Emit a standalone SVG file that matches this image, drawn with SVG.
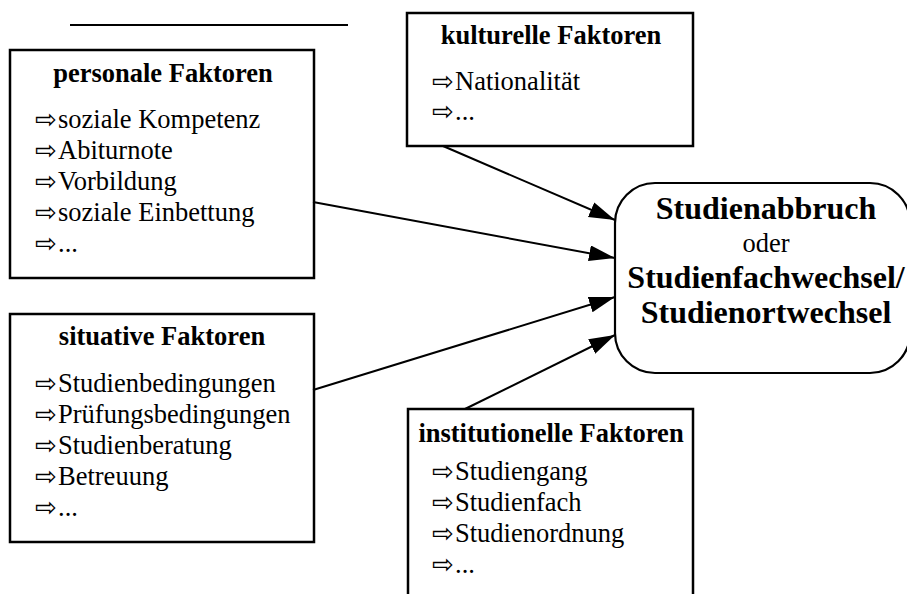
<svg xmlns="http://www.w3.org/2000/svg" width="907" height="594" viewBox="0 0 907 594">
<style>
.box{fill:#fff;stroke:#000;stroke-width:2.5}
.rbox{fill:#fff;stroke:#000;stroke-width:2.2}
.t{font-family:"Liberation Serif","Times New Roman",serif;font-size:26.5px;fill:#000}
.b{font-weight:bold}
.c{text-anchor:middle}
.ar{font-family:"DejaVu Sans",sans-serif;font-size:26px}
.big{font-size:32px;font-weight:bold}
.con{stroke:#000;stroke-width:2;fill:none}
</style>
<defs>
<marker id="ah" markerUnits="userSpaceOnUse" markerWidth="28" markerHeight="18" refX="26" refY="8" orient="auto">
<path d="M0,0 L26,8 L0,16 z" fill="#000"/>
</marker>
</defs>
<rect width="907" height="594" fill="#fff"/>
<line x1="70" y1="25" x2="348" y2="25" stroke="#000" stroke-width="2"/>
<g id="personal">
<rect class="box" x="10" y="50" width="304" height="228"/>
<text class="t b c" x="163" y="82">personale Faktoren</text>
<text class="t" y="128"><tspan class="ar" x="35">⇨</tspan><tspan x="58">soziale Kompetenz</tspan></text>
<text class="t" y="159"><tspan class="ar" x="35">⇨</tspan><tspan x="58">Abiturnote</tspan></text>
<text class="t" y="190"><tspan class="ar" x="35">⇨</tspan><tspan x="58">Vorbildung</tspan></text>
<text class="t" y="221"><tspan class="ar" x="35">⇨</tspan><tspan x="58">soziale Einbettung</tspan></text>
<text class="t" y="252"><tspan class="ar" x="35">⇨</tspan><tspan x="58">...</tspan></text>
</g>
<g id="kulturell">
<rect class="box" x="407" y="13" width="286" height="133"/>
<text class="t b c" x="551" y="44">kulturelle Faktoren</text>
<text class="t" y="90"><tspan class="ar" x="432">⇨</tspan><tspan x="455">Nationalität</tspan></text>
<text class="t" y="120"><tspan class="ar" x="432">⇨</tspan><tspan x="455">...</tspan></text>
</g>
<g id="situativ">
<rect class="box" x="10" y="314" width="304" height="228"/>
<text class="t b c" x="162" y="345">situative Faktoren</text>
<text class="t" y="392"><tspan class="ar" x="35">⇨</tspan><tspan x="58">Studienbedingungen</tspan></text>
<text class="t" y="423"><tspan class="ar" x="35">⇨</tspan><tspan x="58">Prüfungsbedingungen</tspan></text>
<text class="t" y="454"><tspan class="ar" x="35">⇨</tspan><tspan x="58">Studienberatung</tspan></text>
<text class="t" y="485"><tspan class="ar" x="35">⇨</tspan><tspan x="58">Betreuung</tspan></text>
<text class="t" y="516"><tspan class="ar" x="35">⇨</tspan><tspan x="58">...</tspan></text>
</g>
<g id="institutionell">
<rect class="box" x="408" y="409" width="285" height="200"/>
<text class="t b c" x="551" y="442">institutionelle Faktoren</text>
<text class="t" y="480"><tspan class="ar" x="432">⇨</tspan><tspan x="455">Studiengang</tspan></text>
<text class="t" y="511"><tspan class="ar" x="432">⇨</tspan><tspan x="455">Studienfach</tspan></text>
<text class="t" y="542"><tspan class="ar" x="432">⇨</tspan><tspan x="455">Studienordnung</tspan></text>
<text class="t" y="573"><tspan class="ar" x="432">⇨</tspan><tspan x="455">...</tspan></text>
</g>
<g id="ziel">
<rect class="rbox" x="615" y="183" width="295" height="190" rx="40" ry="40"/>
<text class="t big c" x="766" y="219">Studienabbruch</text>
<text class="t c" x="766" y="252">oder</text>
<text class="t big c" x="766" y="288">Studienfachwechsel/</text>
<text class="t big c" x="766" y="323">Studienortwechsel</text>
</g>
<g id="connectors">
<line class="con" x1="443" y1="146" x2="615" y2="220" marker-end="url(#ah)"/>
<line class="con" x1="313" y1="202" x2="615" y2="258" marker-end="url(#ah)"/>
<line class="con" x1="313" y1="390" x2="615" y2="297" marker-end="url(#ah)"/>
<line class="con" x1="465" y1="409" x2="615" y2="335" marker-end="url(#ah)"/>
</g>
</svg>
